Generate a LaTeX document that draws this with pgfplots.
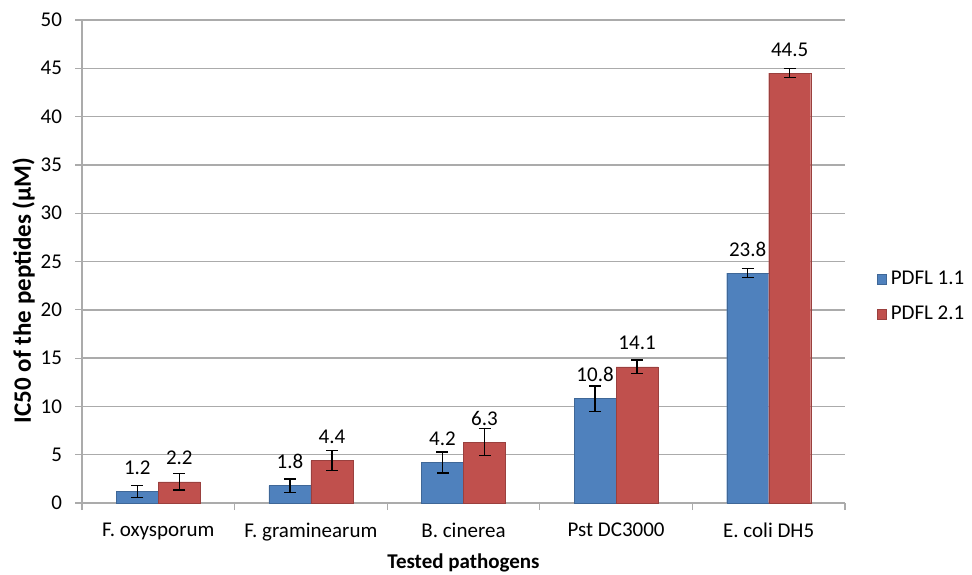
\documentclass[border=0pt]{standalone}
\usepackage{pgfplots}
\pgfplotsset{compat=1.18}
\usepackage{fontspec}
\setmainfont{Carlito}
\definecolor{cblue}{HTML}{4F81BD}
\definecolor{cred}{HTML}{C0504D}
\definecolor{cgrid}{HTML}{ABABAB}
\begin{document}
\begin{tikzpicture}
\path[use as bounding box] (-41pt,-35.5pt) rectangle (445pt,251.5pt);
\begin{axis}[
  scale only axis,
  width=381.5pt, height=241.5pt,
  ybar=0pt, bar width=21pt,
  xmin=-0.5, xmax=4.5, ymin=0, ymax=50,
  ytick={0,5,...,50},
  xtick={0,1,2,3,4},
  xticklabels={F. oxysporum, F. graminearum, B. cinerea, Pst DC3000, E. coli DH5},
  major x tick style={draw=none},
  minor xtick={-0.5,0.5,1.5,2.5,3.5,4.5},
  tick align=outside,
  major tick length=3.5pt, minor tick length=3.5pt,
  axis x line*=bottom, axis y line*=left,
  axis line style={cgrid, line width=0.8pt},
  tick style={cgrid, line width=0.6pt},
  ymajorgrids, grid style={cgrid, line width=0.7pt},
  /pgf/number format/assume math mode=true,
  tick label style={font=\fontsize{10.5}{12}\selectfont},
  yticklabel style={xshift=-3pt},
  xticklabel style={yshift=-3pt},
  ylabel={\bfseries IC50 of the peptides (μM)},
  xlabel={\bfseries Tested pathogens},
  label style={font=\fontsize{10.5}{12}\selectfont},
  ylabel style={font=\fontsize{12.5}{14}\selectfont, at={(ticklabel cs:0.44)}, yshift=-4pt},
  xlabel style={yshift=0.5pt},
  nodes near coords,
  nodes near coords style={font=\fontsize{10.5}{12}\selectfont, black, yshift=5pt,
     /pgf/number format/.cd, fixed, fixed zerofill, precision=1, assume math mode=true},
  legend style={at={(rel axis cs:1.041,0.427)}, anchor=west, draw=none,
     font=\fontsize{10.5}{12}\selectfont, row sep=5pt, fill=none, inner sep=0pt},
  legend image code/.code={\fill[#1] (0cm,-0.085cm) rectangle (0.17cm,0.085cm);},
]
\addplot[fill=cblue, draw=cblue!80!black, line width=0.2pt,
  error bars/.cd, y dir=both, y explicit,
  error bar style={black, line width=0.7pt},
  error mark options={rotate=90, mark size=3pt, line width=0.7pt, black}]
  coordinates {(0,1.2) +- (0,0.6) (1,1.8) +- (0,0.7) (2,4.2) +- (0,1.1) (3,10.8) +- (0,1.3) (4,23.8) +- (0,0.45)};
\addplot[fill=cred, draw=cred!80!black, line width=0.2pt,
  error bars/.cd, y dir=both, y explicit,
  error bar style={black, line width=0.7pt},
  error mark options={rotate=90, mark size=3pt, line width=0.7pt, black}]
  coordinates {(0,2.2) +- (0,0.85) (1,4.4) +- (0,1.05) (2,6.3) +- (0,1.4) (3,14.1) +- (0,0.7) (4,44.5) +- (0,0.45)};
\legend{PDFL 1.1, PDFL 2.1}
\end{axis}
\end{tikzpicture}
\end{document}
